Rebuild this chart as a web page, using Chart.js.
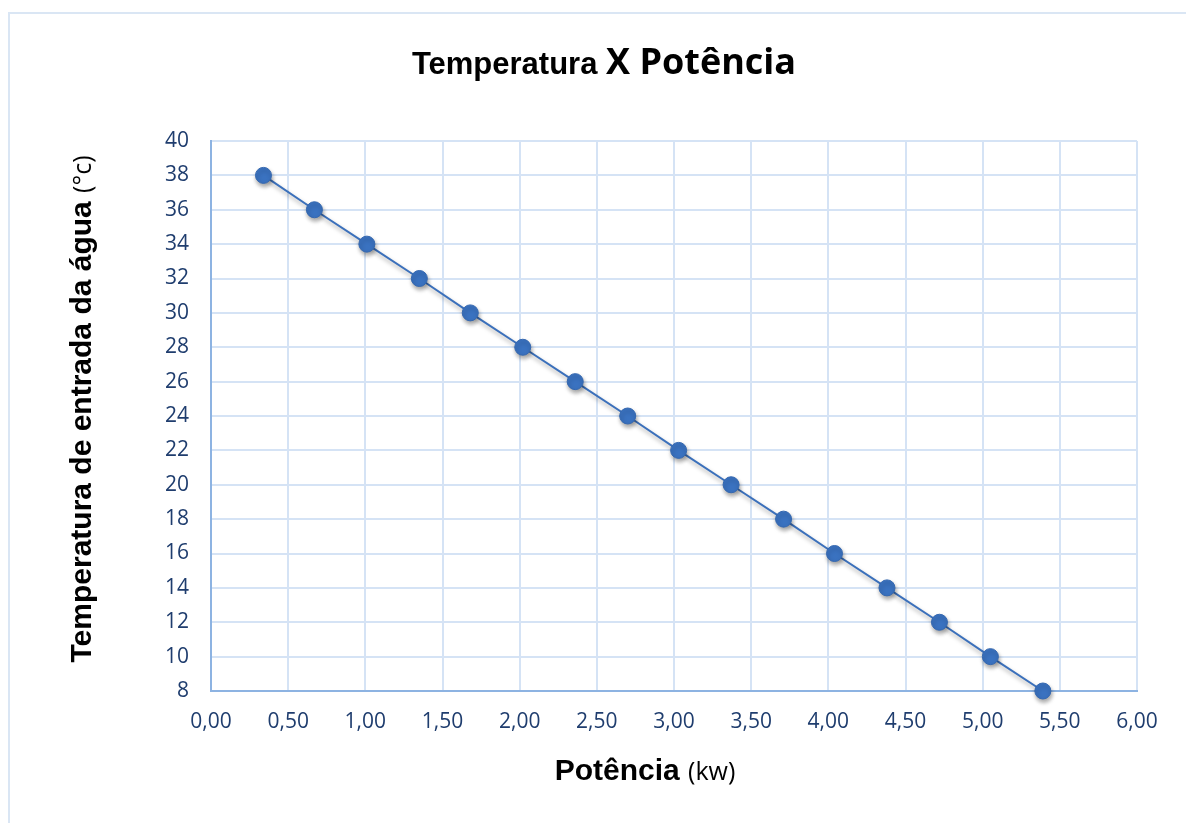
<!DOCTYPE html>
<html>
<head>
<meta charset="utf-8">
<script src="https://cdn.jsdelivr.net/npm/chart.js@4"></script>
<style>
  html, body { margin: 0; padding: 0; background: #fff; overflow: hidden; }
  #frame { position: absolute; left: 8px; top: 12px; width: 1190px; height: 820px;
           border-left: 2px solid #dae6f4; border-top: 2px solid #dae6f4; }
  #chart { position: absolute; left: 0; top: 0; }
</style>
</head>
<body>
<div id="frame"></div>
<canvas id="chart" width="1186" height="823"></canvas>
<script>
const potencia = [0.34, 0.67, 1.01, 1.35, 1.68, 2.02, 2.36, 2.70, 3.03, 3.37, 3.71, 4.04, 4.38, 4.72, 5.05, 5.39];
const temperatura = [38, 36, 34, 32, 30, 28, 26, 24, 22, 20, 18, 16, 14, 12, 10, 8];
const xTicks = [0, 0.5, 1, 1.5, 2, 2.5, 3, 3.5, 4, 4.5, 5, 5.5, 6];
const yTicks = [8, 10, 12, 14, 16, 18, 20, 22, 24, 26, 28, 30, 32, 34, 36, 38, 40];

const COLOR_TICK = "#1f3d6e";
const COLOR_GRID = "#d5e3f5";
const COLOR_AXIS = "#8db3e2";
const COLOR_SERIES = "#3b70bb";
const TICK_FONT = { family: "Open Sans, sans-serif", size: 21 };

// mixed-font titles, like the spreadsheet original
function drawRuns(ctx, runs, x, y, angle) {
  ctx.save();
  ctx.translate(x, y);
  ctx.rotate(angle);
  ctx.textBaseline = "alphabetic";
  ctx.fillStyle = "#000";
  let total = 0;
  runs.forEach((r) => { ctx.font = r.font; total += ctx.measureText(r.text).width; });
  let cx = -total / 2;
  runs.forEach((r) => {
    ctx.font = r.font;
    ctx.fillText(r.text, cx, 0);
    cx += ctx.measureText(r.text).width;
  });
  ctx.restore();
}

const titles = {
  id: "titles",
  afterDraw(chart) {
    const ctx = chart.ctx;
    drawRuns(ctx, [
      { text: "Temperatura ", font: "bold 31px 'Liberation Sans'" },
      { text: "X Potência", font: "bold 36px 'Open Sans'" },
    ], 604, 74, 0);
    drawRuns(ctx, [
      { text: "Potência ", font: "bold 30px 'Liberation Sans'" },
      { text: "(kw)", font: "25px 'Open Sans'" },
    ], 645, 780, 0);
    drawRuns(ctx, [
      { text: "Temperatura de entrada da água ", font: "bold 30px 'Liberation Sans'" },
      { text: "(°c)", font: "25px 'Open Sans'" },
    ], 91, 409, -Math.PI / 2);
  },
};

const pointShadow = {
  id: "pointShadow",
  beforeDatasetDraw(chart) {
    const ctx = chart.ctx;
    ctx.save();
    ctx.shadowColor = "rgba(0,0,0,0.35)";
    ctx.shadowBlur = 4;
    ctx.shadowOffsetX = 1;
    ctx.shadowOffsetY = 3;
  },
  afterDatasetDraw(chart) {
    chart.ctx.restore();
  },
};

new Chart(document.getElementById("chart"), {
  type: "scatter",
  data: {
    datasets: [{
      data: potencia.map((x, i) => ({ x, y: temperatura[i] })),
      showLine: true,
      borderColor: COLOR_SERIES,
      borderWidth: 2,
      backgroundColor: COLOR_SERIES,
      pointBackgroundColor: "#3a72c0",
      pointBorderColor: "#3568b0",
      pointBorderWidth: 1,
      pointRadius: 8,
      clip: false,
    }],
  },
  options: {
    responsive: false,
    animation: false,
    layout: { padding: { top: 141, right: 49, bottom: 0, left: 0 } },
    scales: {
      x: {
        type: "linear",
        min: 0,
        max: 6,
        afterBuildTicks: (s) => { s.ticks = xTicks.map((v) => ({ value: v })); },
        afterFit: (s) => { s.height = 132; },
        border: { color: COLOR_AXIS, width: 2 },
        grid: { color: COLOR_GRID, lineWidth: 2, drawTicks: false },
        ticks: {
          color: COLOR_TICK,
          font: TICK_FONT,
          padding: 18,
          maxRotation: 0,
          callback: (v) => v.toFixed(2).replace(".", ","),
        },
      },
      y: {
        min: 8,
        max: 40,
        afterBuildTicks: (s) => { s.ticks = yTicks.map((v) => ({ value: v })); },
        afterFit: (s) => { s.width = 211; },
        border: { color: COLOR_AXIS, width: 2 },
        grid: { color: COLOR_GRID, lineWidth: 2, drawTicks: false },
        ticks: {
          color: COLOR_TICK,
          font: TICK_FONT,
          padding: 22,
        },
      },
    },
    plugins: {
      legend: { display: false },
      title: { display: false },
      tooltip: { enabled: false },
    },
  },
  plugins: [pointShadow, titles],
});
</script>
</body>
</html>
